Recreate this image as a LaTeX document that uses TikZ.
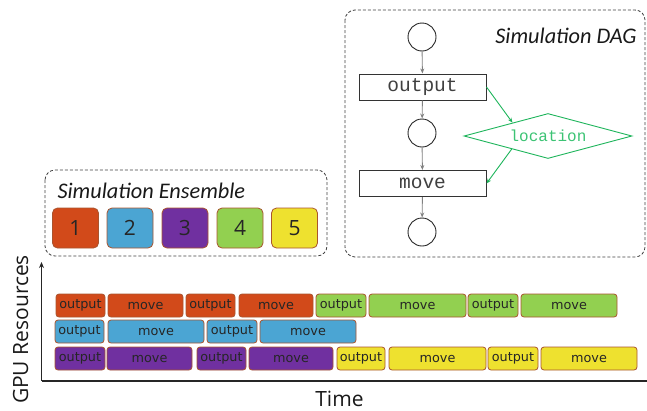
\documentclass[tikz,border=0pt]{standalone}
\usepackage{fontspec}
\setmainfont{Carlito}
\newfontfamily\taskfont{DejaVu Sans}
\newfontfamily\codefont{Liberation Mono}
\newfontfamily\axisfont{Open Sans}
\usetikzlibrary{shapes.geometric,arrows.meta,calc}

\definecolor{simred}{HTML}{D24A1A}
\definecolor{simblue}{HTML}{4BA5D3}
\definecolor{simpurple}{HTML}{7030A0}
\definecolor{simgreen}{HTML}{92D050}
\definecolor{simyellow}{HTML}{EEE12F}
\definecolor{taskedge}{HTML}{A9542E}
\definecolor{locgreen}{HTML}{1DB45A}
\definecolor{locText}{HTML}{3CC374}
\definecolor{flowgray}{HTML}{808080}

\tikzset{
  task/.style={draw=taskedge, line width=0.8pt, rounded corners=3pt,
    minimum height=23pt, inner sep=0pt,
    font=\taskfont\fontsize{12.8}{14}\selectfont, text=black!85},
  member/.style={draw=taskedge, line width=0.8pt, rounded corners=5pt,
    minimum width=46pt, minimum height=40pt, inner sep=0pt,
    font=\axisfont\fontsize{21}{24}\selectfont, text=black!85},
  group/.style={draw=black!75, dash pattern=on 3pt off 2pt, line width=0.8pt,
    rounded corners=10pt},
  stage/.style={draw=black!80, line width=1pt, minimum width=127pt,
    minimum height=26pt, inner sep=0pt,
    font=\codefont\fontsize{19.5}{21}\selectfont, text=black!75},
  state/.style={draw=black!85, line width=0.9pt, circle, minimum size=28pt,
    inner sep=0pt},
  flow/.style={draw=flowgray, line width=0.9pt, -{Stealth[length=5pt,width=4pt]}},
  dep/.style={draw=locgreen, line width=0.9pt, -{Stealth[length=5pt,width=4pt]}},
  title/.style={font=\itshape\fontsize{22.3}{25}\selectfont, text=black!90},
  axislabel/.style={font=\axisfont\fontsize{21}{24}\selectfont, text=black!90,
    inner sep=0pt},
}

% \taskbox{name}{left}{right}{row centre}{colour}{label}
\newcommand\taskbox[6]{%
  \node[task, fill=#5, minimum width={#3pt-#2pt}] (#1) at ({(#2+#3)/2},#4) {#6};}

\begin{document}
\begin{tikzpicture}[x=1pt,y=-1pt]
\path[use as bounding box] (0,0) rectangle (647,410);

% ---- simulation DAG ----
\coordinate (dagNW) at (345,10);
\coordinate (dagSE) at (645,257);
\draw[group] (dagNW) rectangle (dagSE);
\node[title, anchor=base east] (dagtitle) at (640,43) {Simulation DAG};

\node[state] (s0) at (422,37) {};
\node[stage] (out) at (422.5,87) {output};
\node[state] (s1) at (422,133) {};
\node[stage] (mov) at (422.5,183.5) {move};
\node[state] (s2) at (422,232) {};
\node[diamond, draw=locgreen, line width=0.9pt, minimum width=168pt,
      minimum height=45pt, shape aspect=3.7, inner sep=0pt,
      font=\codefont\fontsize{16}{18}\selectfont, text=locText] (loc) at (548,136) {location};

\draw[flow] (s0) -- (out);
\draw[flow] (out) -- (s1);
\draw[flow] (s1) -- (mov);
\draw[flow] (mov) -- (s2);
\draw[dep] (out.east) -- ($(loc.west)!0.58!(loc.north)$);
\draw[dep] ($(loc.west)!0.57!(loc.south)$) -- (mov.east);

% ---- simulation ensemble ----
\coordinate (ensNW) at (45,170);
\coordinate (ensSE) at (327,256);
\draw[group] (ensNW) rectangle (ensSE);
\node[title, anchor=base west] (enstitle) at (54,198) {Simulation Ensemble};
\node[member, fill=simred]    (m1) at (75.5,228) {1};
\node[member, fill=simblue]   (m2) at (130,228) {2};
\node[member, fill=simpurple] (m3) at (185,228) {3};
\node[member, fill=simgreen]  (m4) at (240,228) {4};
\node[member, fill=simyellow] (m5) at (294.5,228) {5};

% ---- axes ----
\coordinate (origin) at (41.5,381);
\coordinate (ytop) at (41.5,262);
\coordinate (xend) at (647,381);
\draw[black!85, line width=1.3pt, -{Stealth[length=6pt,width=5pt]}] (origin) -- (ytop);
\draw[black!85, line width=1.3pt] (origin) -- (xend);
\node[axislabel, rotate=90, anchor=base] (ylab) at (28,329.5) {GPU Resources};
\node[axislabel, anchor=base] (xlab) at (339.5,406) {Time};

% ---- GPU schedule ----
\taskbox{r1}{56}{105}{305.5}{simred}{output}
\taskbox{r2}{108}{183}{305.5}{simred}{move}
\taskbox{r3}{186}{235}{305.5}{simred}{output}
\taskbox{r4}{239}{313}{305.5}{simred}{move}
\taskbox{g1}{316}{366}{305.5}{simgreen}{output}
\taskbox{g2}{369}{466}{305.5}{simgreen}{move}
\taskbox{g3}{468}{518}{305.5}{simgreen}{output}
\taskbox{g4}{521}{617}{305.5}{simgreen}{move}

\taskbox{b1}{55}{104}{331.5}{simblue}{output}
\taskbox{b2}{108}{204}{331.5}{simblue}{move}
\taskbox{b3}{207}{257}{331.5}{simblue}{output}
\taskbox{b4}{260}{356}{331.5}{simblue}{move}

\taskbox{p1}{55}{105}{358.5}{simpurple}{output}
\taskbox{p2}{107}{192}{358.5}{simpurple}{move}
\taskbox{p3}{197}{246}{358.5}{simpurple}{output}
\taskbox{p4}{249}{333}{358.5}{simpurple}{move}
\taskbox{y1}{337}{385}{358.5}{simyellow}{output}
\taskbox{y2}{389}{486}{358.5}{simyellow}{move}
\taskbox{y3}{488}{538}{358.5}{simyellow}{output}
\taskbox{y4}{541}{637}{358.5}{simyellow}{move}
\end{tikzpicture}
\end{document}
